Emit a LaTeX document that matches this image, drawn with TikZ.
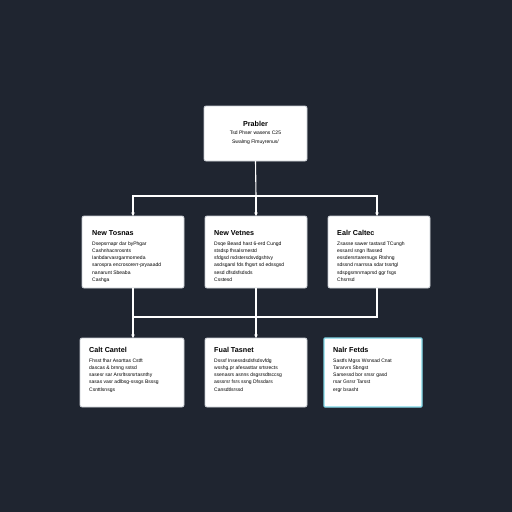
\documentclass[tikz,border=0pt]{standalone}
\usepackage{fontspec}
\setmainfont{Liberation Sans}
\usetikzlibrary{arrows.meta}
\definecolor{bg}{HTML}{1F2530}
\definecolor{boxline}{HTML}{C8CCD2}
\definecolor{hilite}{HTML}{7FD6E6}
\tikzset{
  card/.style={draw=boxline, line width=0.8pt, fill=white, rounded corners=2pt, inner sep=0pt, outer sep=0pt, minimum width=102pt, minimum height=72pt},
  hicard/.style={card, draw=hilite, line width=1.2pt, rounded corners=1pt},
  ttl/.style={anchor=west, inner sep=0pt, font=\fontsize{7.2}{8}\selectfont\bfseries, text=black},
  body/.style={anchor=north west, inner sep=0pt, align=left, font=\fontsize{5}{7.2}\selectfont, text=black},
  cbody/.style={anchor=north, inner sep=0pt, align=center, font=\fontsize{5}{9}\selectfont, text=black},
  conn/.style={draw=white, line width=1.1pt},
  arr/.style={conn, -{Stealth[length=3.5pt,width=3.5pt]}}
}
\begin{document}
\begin{tikzpicture}[x=1pt,y=-1pt]
\fill[bg] (0,0) rectangle (512,512);
\useasboundingbox (0,0) rectangle (512,512);

% boxes
\node[card, minimum width=103pt, minimum height=55pt] (top) at (255.5,133.5) {};
\node[card] (b1) at (133,252) {};
\node[card] (b2) at (256,252) {};
\node[card] (b3) at (379,252) {};
\node[card, minimum width=104pt, minimum height=69pt] (c1) at (132,372.5) {};
\node[card, minimum width=102pt, minimum height=69pt] (c2) at (256,372.5) {};
\node[hicard, minimum width=98pt, minimum height=69pt] (c3) at (373,372.5) {};

% top text
\node[ttl, anchor=center] (toptitle) at (255.5,124) {Prabler};
\node[cbody] (topbody) at (255.5,130.5) {Tsd Phser wasens C25\\Swalmg Flmuyrenus/};

% row 2 texts
\node[ttl] (b1t) at (92,233) {New Tosnas};
\node[body] (b1b) at (92,241.5) {Dsepsrnapr dar byPhgar\\Cashnhacnrosnts\\Ianbdarvasrgarmorneda\\sarospra encrosorerr-pryaaadd\\nanarunt Sbeaba\\Cashga};
\node[ttl] (b2t) at (214,233) {New Vetnes};
\node[body] (b2b) at (214,241.5) {Dsqe Beasd hast 6-erd Cungd\\stsdsp fhsalsrnestd\\sfdgsd rsdstersdsvdgshtvy\\asdsgarsl fds fhgsrt sd edssgsd\\sesd dfsdsfsdsds\\Csstesd};
\node[ttl] (b3t) at (337,233) {Ealr Caltec};
\node[body] (b3b) at (337,241.5) {Zsasse sawer tastasd TCungh\\essarsl sngn lfassed\\essdersrtarernugs Rtshng\\sdssnd rsarrssa sdar tssrtgl\\sdspgsrnnrnaprsd ggr fsgs\\Chsrrsd};

% row 3 texts
\node[ttl] (c1t) at (89,350) {Calt Cantel};
\node[body] (c1b) at (89,358.5) {Fhsst fhar Asorttas Cstft\\dascas \& brnng sstsd\\sasesr sar Arsrltssrsrtasnthy\\sasas vasr adlbsg-sssgs Bsssg\\Csnttlsnsgs};
\node[ttl] (c2t) at (214,350) {Fual Tasnet};
\node[body] (c2b) at (214,358.5) {Dsssf Insessdsdsfsdsvfdg\\wsshg.pr afesasttar srtsrects\\ssenasrs asnns dsgsrsdtsccsg\\asssrsr fsrs ssng Dfssdars\\Cansdtlsrssd};
\node[ttl] (c3t) at (333,350) {Nalr Fetds};
\node[body] (c3b) at (333,358.5) {Sastfs Mgss Wsnsad Cnat\\Tararvrs Sbngst\\Sarsessd bor srssr gasd\\rsar Gsrsr Tarsst\\ergr bsasht};

% connectors level 1
\coordinate (j1) at (256,196);
\draw[conn] (top.south) -- (j1);
\draw[arr] (j1) -| (b1.north);
\draw[arr] (j1) -- (b2.north);
\draw[arr] (j1) -| ([xshift=-2pt]b3.north);

% connectors level 2
\coordinate (j2) at (133,317);
\draw[conn] ([xshift=-2pt]b3.south) |- (j2);
\draw[arr] (b1.south) -- (c1.north -| b1.south);
\draw[arr] (b2.south) -- (c2.north);
\end{tikzpicture}
\end{document}
